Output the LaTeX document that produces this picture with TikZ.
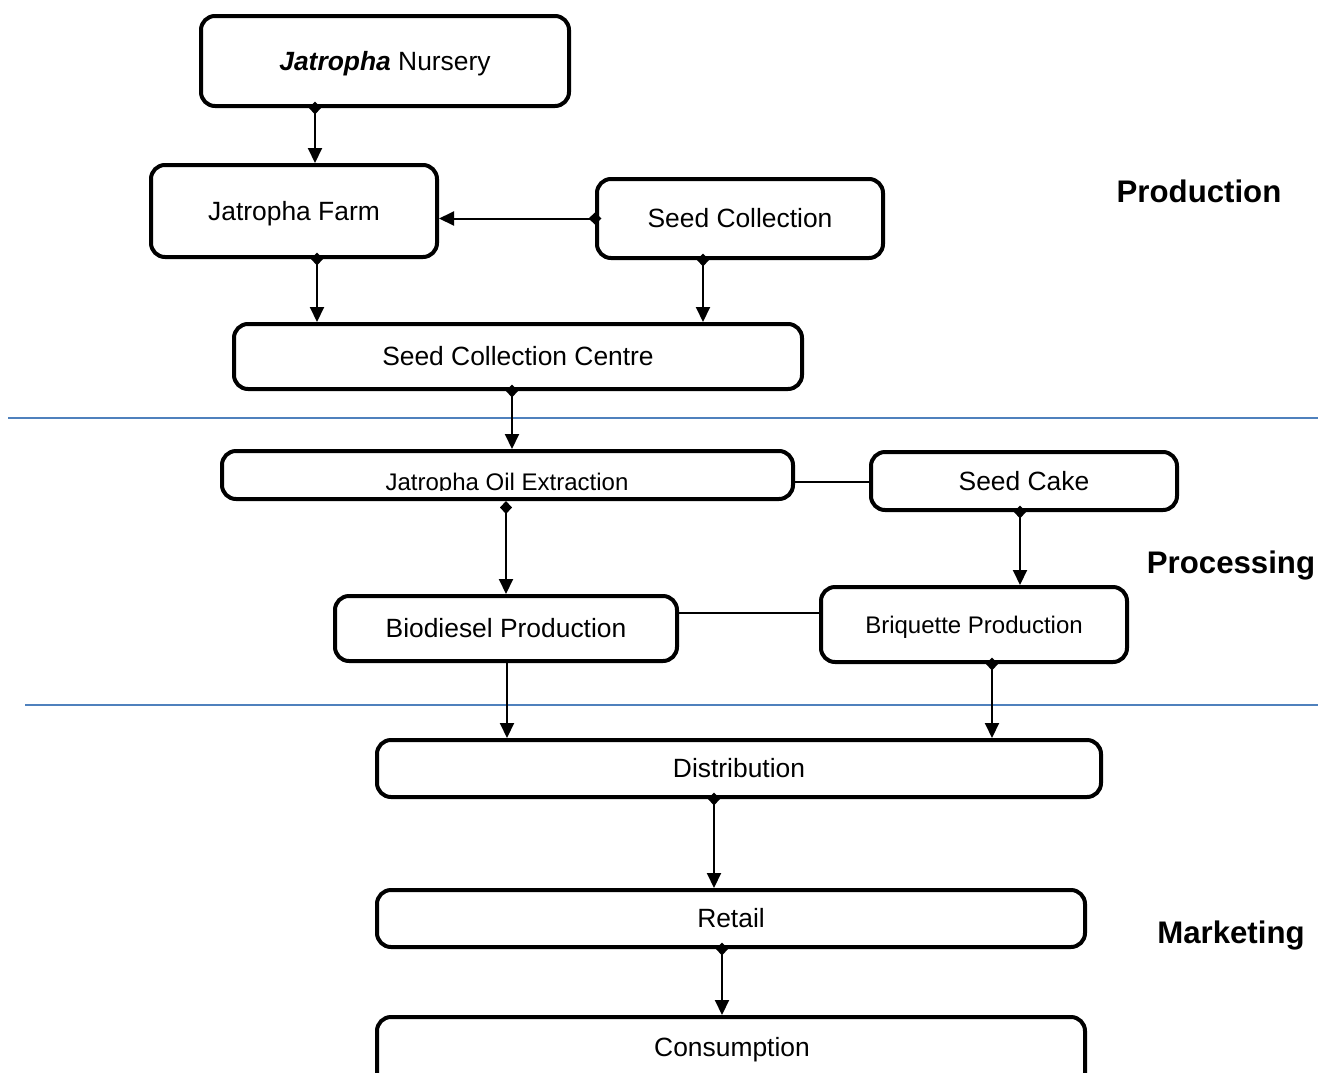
\documentclass[tikz,border=0pt]{standalone}
\usepackage{fontspec}
\setmainfont{Liberation Sans}
\usetikzlibrary{arrows.meta}
\tikzset{
  box/.style={draw, line width=2pt, rounded corners=7pt, fill=white, inner sep=0pt, text height=0.92em, text depth=0pt, font=\fontsize{13.2}{15}\selectfont},
  conn/.style={line width=1pt, -{Triangle[length=7.5pt,width=7pt]}},
  dconn/.style={line width=1pt, shorten <=-3.25pt, {Diamond[length=6.5pt,width=6pt]}-{Triangle[length=7.5pt,width=7pt]}},
  plain/.style={line width=1pt},
  sep/.style={draw={rgb,255:red,79;green,129;blue,189}, line width=1pt},
  lab/.style={font=\bfseries\fontsize{15.6}{18}\selectfont}
}
\begin{document}
\begin{tikzpicture}[x=0.5pt,y=-0.5pt]
\useasboundingbox (0,0) rectangle (1318,1072);
\clip (0,0) rectangle (1318,1072);
% separators
\draw[sep] (8,418) coordinate (s1a) -- (1318,418) coordinate (s1b);
\draw[sep] (25,705) coordinate (s2a) -- (1318,705) coordinate (s2b);
% boxes
\node[box, minimum width=184pt, minimum height=45pt] (nur) at (385,61) {\textbf{\textit{Jatropha}} Nursery};
\node[box, minimum width=143pt, minimum height=46pt] (farm) at (294,211) {Jatropha Farm};
\node[box, minimum width=143pt, minimum height=39.5pt] (sc) at (740,218.5) {Seed Collection};
\node[box, minimum width=284pt, minimum height=32.5pt] (scc) at (518,356.5) {Seed Collection Centre};
\begin{scope}
\clip (222,451) rectangle (793,490);
\node[anchor=base, font=\fontsize{12}{14}\selectfont, inner sep=0pt] (joet) at (507,490) {Jatropha Oil Extraction};
\end{scope}
\node[box, fill=none, minimum width=285.5pt, minimum height=24pt] (joe) at (507.5,475) {};
\node[box, minimum width=153pt, minimum height=29pt] (cake) at (1024,481) {Seed Cake};
\node[box, minimum width=171pt, minimum height=32.5pt] (bio) at (506,628.5) {Biodiesel Production};
\node[box, minimum width=153pt, minimum height=37.5pt, font=\fontsize{12}{14}\selectfont] (briq) at (974,624.5) {Briquette Production};
\node[box, minimum width=362pt, minimum height=28.5pt] (dist) at (739,768.5) {Distribution};
\node[box, minimum width=354pt, minimum height=28.5pt] (ret) at (731,918.5) {Retail};
\node[box, minimum width=354pt, minimum height=45pt] (cons) at (731,1062) {};
\node[font=\fontsize{13.2}{15}\selectfont, inner sep=0pt] (const) at (732,1050) {Consumption};
% labels
\node[lab] (lprod) at (1199,191) {Production};
\node[lab] (lproc) at (1231,565) {Processing};
\node[lab] (lmark) at (1231,935) {Marketing};
% connectors
\draw[dconn] (nur.south -| 315,0) -- (farm.north -| 315,0);
\draw[dconn] (sc.west) -- (farm.east |- sc.west);
\draw[dconn] (farm.south -| 317,0) -- (scc.north -| 317,0);
\draw[dconn] (sc.south -| 703,0) -- (scc.north -| 703,0);
\draw[dconn] (scc.south -| 512,0) -- (joe.north -| 512,0);
\draw[dconn, shorten <=0pt] (joe.south -| 506,0) -- (bio.north -| 506,0);
\draw[plain] (joe.east |- 0,482) -- (cake.west |- 0,482);
\draw[dconn] (cake.south -| 1020,0) -- (briq.north -| 1020,0);
\draw[plain] (bio.east |- 0,613) -- (briq.west |- 0,613);
\draw[conn] (bio.south -| 507,0) -- (dist.north -| 507,0);
\draw[dconn] (briq.south -| 992,0) -- (dist.north -| 992,0);
\draw[dconn] (dist.south -| 714,0) -- (ret.north -| 714,0);
\draw[dconn] (ret.south -| 722,0) -- (cons.north -| 722,0);
\end{tikzpicture}
\end{document}
